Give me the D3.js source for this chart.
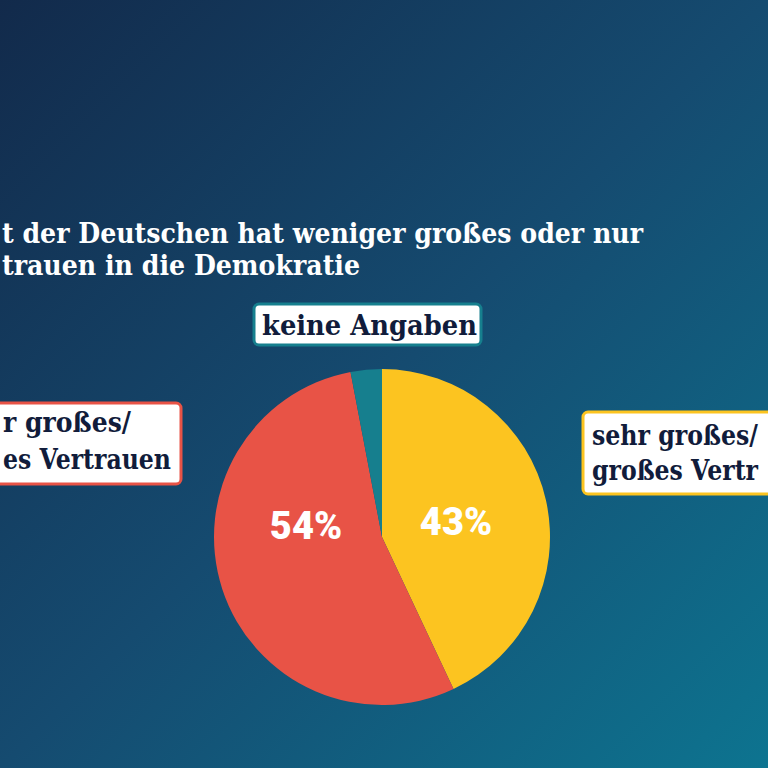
<!DOCTYPE html>
<html>
<head>
<meta charset="utf-8">
<script src="https://cdn.jsdelivr.net/npm/d3@7"></script>
<style>
html,body{margin:0;padding:0;background:#133457;}
svg{display:block;}
</style>
</head>
<body>
<svg id="chart" width="768" height="768"></svg>
<script>
const categories = ["sehr großes/ großes Vertrauen", "weniger großes/ geringes Vertrauen", "keine Angaben"];
const values = [43, 54, 3];
const valueLabels = ["43%", "54%", ""];
const colors = ["#fcc420", "#e85346", "#167f8e"];
const titleLines = ["t der Deutschen hat weniger großes oder nur", "trauen in die Demokratie"];
const leftLabelLines = ["r großes/", "es Vertrauen"];
const rightLabelLines = ["sehr großes/", "großes Vertr"];
const topLabelLines = ["keine Angaben"];

const W = 768, H = 768;
const svg = d3.select("#chart");

// background gradient
const defs = svg.append("defs");
const grad = defs.append("linearGradient").attr("id", "bg")
  .attr("x1", "0").attr("y1", "0").attr("x2", "1").attr("y2", "1");
grad.append("stop").attr("offset", "0").attr("stop-color", "#122a4b");
grad.append("stop").attr("offset", "0.5").attr("stop-color", "#154b70");
grad.append("stop").attr("offset", "1").attr("stop-color", "#0d7490");
svg.append("rect").attr("width", W).attr("height", H).attr("fill", "url(#bg)");

const serif = "'DejaVu Serif', serif";

// title
const title = svg.append("g");
titleLines.forEach((t, i) => {
  title.append("text")
    .attr("x", 2).attr("y", 243 + i * 32)
    .attr("fill", "#ffffff")
    .attr("font-family", serif).attr("font-weight", "bold")
    .attr("font-size", 27)
    .attr("textLength", i === 0 ? 641 : 358)
    .attr("lengthAdjust", "spacingAndGlyphs")
    .text(t);
});

// pie
const cx = 382, cy = 537, r = 168;
const pie = d3.pie().sort(null).value(d => d)(values);
const arc = d3.arc().innerRadius(0).outerRadius(r);
const g = svg.append("g").attr("transform", `translate(${cx},${cy})`);
g.selectAll("path").data(pie).join("path")
  .attr("d", arc)
  .attr("fill", (d, i) => colors[i]);

// value labels
const labelPos = [[74, -2], [-76, 2]];
g.selectAll("text.val").data(pie.filter((d, i) => valueLabels[i]))
  .join("text").attr("class", "val")
  .attr("x", (d, i) => labelPos[i][0])
  .attr("y", (d, i) => labelPos[i][1])
  .attr("text-anchor", "middle")
  .attr("fill", "#ffffff")
  .attr("font-family", "Roboto, sans-serif").attr("font-weight", "900")
  .attr("font-size", 38)
  .text((d, i) => valueLabels[d.index]);

// label boxes
function labelBox(x, y, w, h, stroke, lines, tx, ty0, lh, lens) {
  svg.append("rect").attr("x", x).attr("y", y).attr("width", w).attr("height", h)
    .attr("rx", 5).attr("fill", "#ffffff").attr("stroke", stroke).attr("stroke-width", 3);
  lines.forEach((t, i) => {
    const el = svg.append("text")
      .attr("x", tx).attr("y", ty0 + i * lh)
      .attr("fill", "#111c3b")
      .attr("font-family", serif).attr("font-weight", "bold")
      .attr("font-size", 27)
      .text(t);
    if (lens && lens[i]) el.attr("textLength", lens[i]).attr("lengthAdjust", "spacingAndGlyphs");
  });
}
labelBox(-10, 403, 191, 81, colors[1], leftLabelLines, 3, 432, 37, [128, 168]);
labelBox(583, 412, 200, 82, colors[0], rightLabelLines, 592, 445, 35, [166, 166]);
labelBox(254, 304, 227, 41, colors[2], topLabelLines, 262, 335, 0, [215]);
</script>
</body>
</html>
